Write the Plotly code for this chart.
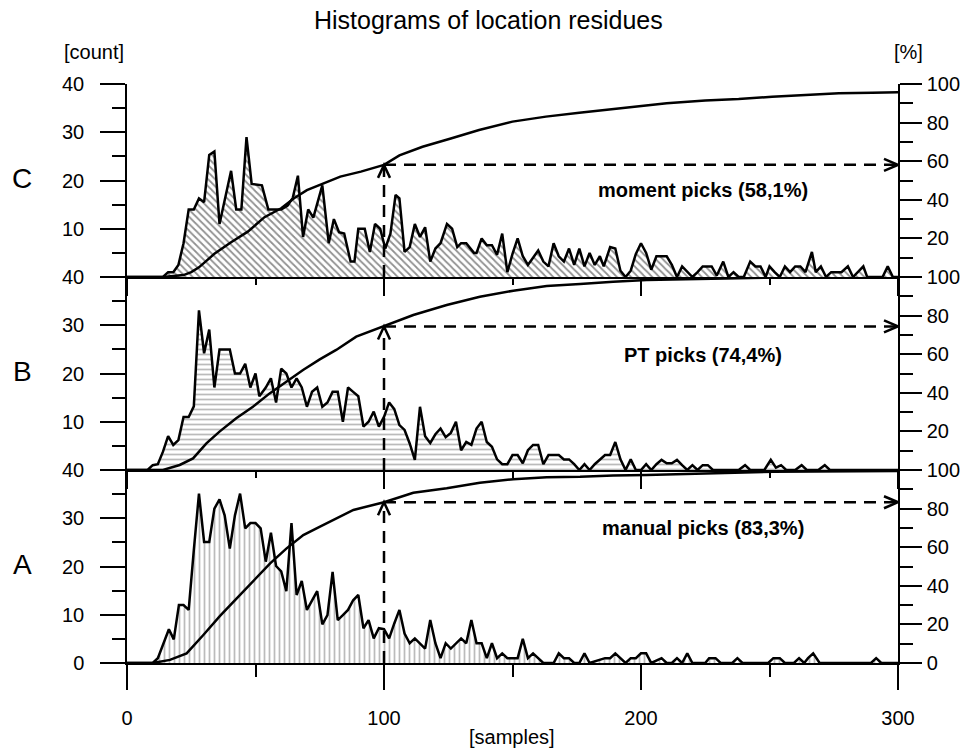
import plotly.graph_objects as go

# ---------------- data ----------------
X_TICKS = [0, 100, 200, 300]
X_TICK_LABELS = ["0", "100", "200", "300"]
X_MINOR = [50, 150, 250]
COUNT_TICKS_FULL = [0, 10, 20, 30, 40]
COUNT_TICKS_UPPER = [10, 20, 30, 40]
COUNT_MINOR = [5, 15, 25, 35]
PCT_TICKS_FULL = [0, 20, 40, 60, 80, 100]
PCT_TICKS_UPPER = [20, 40, 60, 80, 100]
PCT_MINOR = [10, 30, 50, 70, 90]

TITLE = "Histograms of location residues"
PANEL_NAMES = ["A", "B", "C"]
PICK_LABELS = ["manual picks (83,3%)", "PT picks (74,4%)", "moment picks (58,1%)"]
PICK_PCT = [83.3, 74.4, 58.1]
MARK_X = 100

# Panel C : moment picks
c_x = [0, 14, 16, 18, 20, 22, 24, 26, 28, 30, 32, 34, 36, 40.5, 42.5, 44.5, 46.5, 48.5, 52.5, 55,
       60, 62.5, 64.5, 66.5, 68.5, 70.5, 72.5, 76, 78.5, 80.5, 82.5, 84.5, 87, 88.5, 90, 92.5, 94.5,
       96.5, 98.5, 100.5, 102.5, 104.5, 106, 108, 110, 112, 114, 116, 118, 120, 122, 124.5, 126.5,
       128.5, 130, 132, 135, 136, 138, 140, 142, 144, 146, 148, 150, 152, 154, 156, 158, 160, 162,
       164, 166, 168, 170, 172, 174, 176, 178, 180, 182, 184, 185.5, 188, 190, 192, 194, 196, 198,
       200, 202, 204, 206, 210, 212, 214, 216, 218, 220, 222, 224, 227.5, 229.5, 232, 234, 236, 238,
       240, 242.5, 244.5, 246.5, 248.5, 250, 252, 254, 256, 258, 260, 262, 264, 266.5, 268, 270,
       272, 274, 278, 280.5, 282.5, 286.5, 288, 294, 296, 298, 300]
c_count = [0, 0, 1, 1, 2.5, 7, 14, 14, 16.3, 15.5, 25.3, 26, 11, 22, 14, 14, 29, 19.3, 19, 14,
           14, 14.8, 16.4, 21, 8.3, 14, 12.3, 19, 7, 12, 9.3, 9, 3.2, 3.2, 10, 10, 5.2,
           11, 10, 5.9, 9, 17, 16.3, 5.2, 6.2, 11, 8.3, 10.3, 3.2, 5.9, 7, 11, 10,
           6.2, 7, 7, 5, 5, 8, 6.6, 6.6, 4.6, 9, 1, 4.8, 8, 4.3, 2.5, 4, 5.5, 3.2,
           2.2, 7, 4.3, 3.2, 5.9, 2.5, 5.9, 2.2, 5, 2.5, 4.3, 2.2, 6.2, 5.9, 1.3, 0, 1.3, 4.8,
           7, 5, 1.5, 4.3, 4.3, 2.5, 0, 2.2, 1, 0, 1, 2.2, 2.2, 0.3, 3.2, 0, 1, 0,
           0, 3.2, 2.2, 2.2, 0, 2.2, 1, 0, 2.2, 1, 2.2, 2.2, 1, 5.2, 1, 2.2,
           0, 1, 1, 2.2, 0, 2.2, 0, 0, 2.2, 0, 0]
c_cum_x = [0, 14, 22, 25, 28, 34, 40.5, 47, 53.5, 60, 65, 70, 76.5, 83, 91, 100, 106, 115, 126,
           137, 150, 163, 176, 189, 202, 210, 225, 238, 251, 264, 277, 290, 300]
c_cum_pct = [0, 0, 1, 2.5, 5, 12, 18, 23.5, 31, 35.6, 40.8, 45, 48.5, 52, 54.6, 58.1, 63, 67.5, 71.8,
             76.2, 80.5, 83.1, 85.1, 86.9, 88.5, 90, 91.4, 92.2, 93.4, 94.3, 95.2, 95.5, 95.7]

# Panel B : PT picks
b_x = [0, 8, 10, 12, 14, 16, 18, 20, 22, 24, 26, 28, 30, 32, 34, 36, 40, 42, 44, 46, 48, 50, 51.5,
       54, 56, 58, 60, 62, 64, 66, 68, 70, 72, 74, 76, 78, 80, 82, 84, 86, 88, 90, 92, 94, 96, 98,
       100, 102, 104, 106, 108, 110, 112, 114, 116, 118, 120, 122, 124, 126, 128, 130, 132, 134,
       136, 138, 140, 142, 144, 146, 148, 150, 152, 154, 156, 158, 160, 162, 164, 166, 168, 170,
       172, 174, 176, 178, 180, 182, 184, 186, 188, 190, 192, 194, 196, 198, 200, 202, 204, 206,
       208, 210, 212, 214, 216, 218, 220, 222, 224, 226, 228, 238, 240.5, 242.5, 248, 250.5, 252.5,
       254.5, 256.5, 260, 262.5, 264.5, 269, 271.5, 273.5, 300]
b_count = [0, 0, 1, 1.2, 3.8, 7, 5.2, 6.2, 11, 11, 13.2, 33.1, 24.2, 29.1, 17.1, 25, 25, 20, 20, 22,
           17.1, 20, 15.3, 17.1, 19, 14, 21, 20, 17.1, 19, 17.1, 13.1, 16.2, 17.1, 13.1, 14, 16.2,
           16.2, 10, 17.1, 16.2, 15.3, 9, 10, 12.1, 9, 11, 14, 12.6, 9.3, 8.3, 5.5, 2.1, 13.1, 7,
           5.6, 7.4, 8.6, 6.8, 7.7, 10, 4.1, 5.8, 5.2, 8.6, 10, 5.8, 4.8, 2.2, 1.2, 1.2, 3.1, 3.1,
           1.4, 4.1, 5.2, 5.2, 1.2, 3.1, 3.1, 3.1, 2.2, 2.2, 1.2, 0, 1.2, 0, 1.2, 2.2, 3.1, 3.1,
           5.8, 2.2, 0, 2.2, 0, 0, 1.2, 0, 1.2, 2.1, 1.4, 1.4, 2.1, 1, 0, 1, 0, 1, 1, 0, 0, 1, 0, 0,
           2.1, 0.5, 1, 0, 0, 1, 0, 0, 1, 0, 0]
b_cum_x = [0, 14, 20.5, 25.7, 30.9, 36, 42.5, 49, 55.5, 62, 68.5, 75, 81.4, 89.2, 100, 111.4, 124.4,
           137.3, 150.3, 163.3, 176.3, 189.2, 202.2, 225, 250, 300]
b_cum_pct = [0, 0, 2.6, 6, 13.8, 19.9, 26.8, 32.8, 39.7, 45.8, 51.8, 57.3, 62.2, 69.1, 74.4, 80.3,
             85.5, 89.8, 92.9, 95.3, 96.4, 97.6, 98.4, 99.2, 99.7, 100]

# Panel A : manual picks
a_x = [0, 10, 12, 14, 16.3, 18.2, 20.2, 22, 24, 26, 28, 30, 32, 34, 36, 38, 40, 42, 44, 46, 48, 50,
       52, 54, 56, 58, 60, 62, 64, 66, 68, 70, 72, 74, 76, 78, 80, 82, 84, 86, 88, 90, 92, 94, 96,
       98, 100, 102, 104, 106, 108, 110, 112, 114, 116, 118, 120, 122, 124, 126, 128, 130, 132, 134,
       136, 138, 140, 142, 144, 146, 148, 150, 152, 154, 156, 158, 160, 162, 166, 168, 170, 172,
       174, 176, 178, 180, 186, 188, 190, 192, 194, 196, 198, 200, 202, 204, 208, 210, 212, 214,
       216, 218, 220, 225, 226.5, 229, 231, 235.5, 237.5, 239.5, 249.5, 251.5, 254, 256, 259.5,
       261.5, 263.5, 265, 267, 269.5, 289.5, 291.5, 293.5, 300]
a_count = [0, 0, 1, 3.7, 7, 4.9, 12, 12, 11, 23.4, 35.1, 25.1, 25.1, 32, 33.9, 30.6, 23.7, 30.6, 35.1,
           27.9, 29, 29, 27.9, 21, 27, 20.1, 19, 14.9, 29, 14.1, 17, 11, 13, 14.9, 8, 9.9, 18.9, 8.9,
           9.9, 11, 13, 14.1, 7.2, 8.9, 5.1, 7.2, 7, 5.1, 8.2, 11, 6.1, 4.1, 5.1, 4.1, 3, 8.9, 4.1,
           1, 4.1, 3, 4.1, 5.1, 4.1, 8.9, 4.1, 4.1, 1, 4.1, 1, 2, 1, 1, 1, 5, 1, 2, 1, 0, 0, 2, 1, 1,
           0, 0, 2, 0, 1, 1, 2, 1, 0, 1, 1, 2, 2, 0, 1, 0, 0, 1, 0, 2, 0, 0, 1, 1, 0, 0, 1, 0, 0, 1,
           1, 0, 0, 1, 0, 1, 2, 0, 0, 1, 0, 0]
a_cum_x = [0, 10, 16.7, 23.2, 29.7, 36.2, 42.7, 49.2, 55.7, 62.1, 68.6, 75.1, 81.6, 88.1, 100, 111.4,
           124.4, 137.3, 150.3, 163.3, 176.3, 189.2, 202.2, 226, 251.5, 300]
a_cum_pct = [0, 0, 1.6, 5, 14.5, 24.4, 33.5, 42.7, 51.6, 59.4, 66.3, 70.6, 75, 79.3, 83.3, 88.2, 90.5,
             93.4, 95.2, 96.2, 96.5, 97.2, 97.4, 98.3, 99.1, 99.5]

# ---------------- figure ----------------
FONT = "Arial, Liberation Sans, sans-serif"
W, H = 974, 749
PLOT_L, PLOT_R, PLOT_T, PLOT_B = 127, 898, 84, 663   # pixels of the plot area
ML, MT = PLOT_L, PLOT_T
PW, PH = PLOT_R - PLOT_L, PLOT_B - PLOT_T
MR, MB = W - ML - PW, H - MT - PH
PANEL_H = PH / 3.0

fig = go.Figure()

panels = [
    dict(hx=a_x, hy=a_count, cx=a_cum_x, cy=a_cum_pct, xa="x", ya="y", pa="y2",
         pattern=dict(shape="|", size=5, solidity=0.35, fgcolor="#777777", bgcolor="white")),
    dict(hx=b_x, hy=b_count, cx=b_cum_x, cy=b_cum_pct, xa="x2", ya="y3", pa="y4",
         pattern=dict(shape="-", size=5, solidity=0.35, fgcolor="#777777", bgcolor="white")),
    dict(hx=c_x, hy=c_count, cx=c_cum_x, cy=c_cum_pct, xa="x3", ya="y5", pa="y6",
         pattern=dict(shape="\\", size=5, solidity=0.35, fgcolor="#222222", bgcolor="white")),
]

for p in panels:
    fig.add_trace(go.Scatter(x=p["hx"], y=p["hy"], xaxis=p["xa"], yaxis=p["ya"], mode="lines",
                             fill="tozeroy", fillpattern=p["pattern"], fillcolor="white",
                             line=dict(color="black", width=2.5), showlegend=False,
                             hoverinfo="skip"))
    fig.add_trace(go.Scatter(x=p["cx"], y=p["cy"], xaxis=p["xa"], yaxis=p["pa"], mode="lines",
                             line=dict(color="black", width=2.5), showlegend=False,
                             hoverinfo="skip"))

tickfont = dict(family=FONT, size=20, color="black")
common_line = dict(showline=True, linecolor="black", linewidth=1.5, showgrid=False, zeroline=False,
                   tickcolor="black", tickwidth=1.5)

layout = dict(
    width=W, height=H,
    margin=dict(l=ML, r=MR, t=MT, b=MB),
    paper_bgcolor="white", plot_bgcolor="white",
    showlegend=False,
    font=dict(family=FONT, size=20, color="black"),
)

x_ranges = [0, 300]
for i, (xname, yname) in enumerate([("xaxis", "y"), ("xaxis2", "y3"), ("xaxis3", "y5")]):
    ax = dict(domain=[0, 1], anchor=yname, range=x_ranges, tickvals=X_TICKS,
              ticks="outside", **common_line)
    if i == 0:
        ax.update(ticktext=X_TICK_LABELS, ticklen=25, tickfont=tickfont, ticklabelstandoff=11,
                  minor=dict(tickvals=X_MINOR, ticks="outside", ticklen=12, tickcolor="black",
                             tickwidth=1.5))
    else:
        ax.update(showticklabels=False, ticklen=17, matches="x",
                  minor=dict(tickvals=X_MINOR, ticks="outside", ticklen=6, tickcolor="black",
                             tickwidth=1.5))
    layout[xname] = ax

for i in range(3):
    left_name = "yaxis" if i == 0 else "yaxis%d" % (2 * i + 1)
    right_name = "yaxis%d" % (2 * i + 2)
    xref = "x" if i == 0 else "x%d" % (i + 1)
    base = "y" if i == 0 else "y%d" % (2 * i + 1)
    layout[left_name] = dict(
        domain=[i / 3.0, (i + 1) / 3.0], anchor=xref, range=[0, 40],
        tickvals=COUNT_TICKS_FULL if i == 0 else COUNT_TICKS_UPPER,
        ticks="outside", ticklen=25, tickfont=tickfont, ticklabelstandoff=12,
        minor=dict(tickvals=COUNT_MINOR, ticks="outside", ticklen=13, tickcolor="black",
                   tickwidth=1.5),
        **common_line)
    layout[right_name] = dict(
        overlaying=base, anchor=xref, side="right", range=[0, 100],
        tickvals=PCT_TICKS_FULL if i == 0 else PCT_TICKS_UPPER,
        ticks="outside", ticklen=22, tickfont=tickfont, ticklabelstandoff=1,
        minor=dict(tickvals=PCT_MINOR, ticks="outside", ticklen=13, tickcolor="black",
                   tickwidth=1.5),
        **common_line)

fig.update_layout(**layout)


def px_to_paper(px, py):
    """pixel -> paper coordinate"""
    return (px - PLOT_L) / PW, (PLOT_B - py) / PH


annotations = []
tx, ty = px_to_paper(488, 20)
annotations.append(dict(text=TITLE, x=tx, y=ty, xref="paper", yref="paper", showarrow=False,
                        font=dict(family=FONT, size=25, color="black"),
                        xanchor="center", yanchor="middle"))
for txt, (px, py) in [("[count]", (94, 52)), ("[%]", (908, 52)), ("[samples]", (512, 737))]:
    ax_, ay_ = px_to_paper(px, py)
    annotations.append(dict(text=txt, x=ax_, y=ay_, xref="paper", yref="paper", showarrow=False,
                            font=dict(family=FONT, size=20, color="black"),
                            xanchor="center", yanchor="middle"))

panel_label_py = [564, 371, 178]
pick_label_py = [528, 355, 190]
for i in range(3):
    ax_, ay_ = px_to_paper(22, panel_label_py[i])
    annotations.append(dict(text=PANEL_NAMES[i], x=ax_, y=ay_, xref="paper", yref="paper",
                            showarrow=False, font=dict(family=FONT, size=28, color="black"),
                            xanchor="center", yanchor="middle"))
    ax_, ay_ = px_to_paper(703, pick_label_py[i])
    annotations.append(dict(text="<b>%s</b>" % PICK_LABELS[i], x=ax_, y=ay_, xref="paper",
                            yref="paper", showarrow=False,
                            font=dict(family=FONT, size=20, color="black"),
                            xanchor="center", yanchor="middle"))
fig.update_layout(annotations=annotations)

# dashed arrows: vertical at MARK_X up to the cumulative value, then right to the axis
dx = 300.0 / PW          # samples per pixel
dy = 100.0 / PANEL_H     # percent per pixel
shapes = []
for i in range(3):
    xref = "x" if i == 0 else "x%d" % (i + 1)
    yref = "y%d" % (2 * i + 2)
    v = PICK_PCT[i]
    dash = dict(color="black", width=2.5, dash="12px,8px")
    shapes.append(dict(type="line", xref=xref, yref=yref, x0=MARK_X, y0=0, x1=MARK_X, y1=v,
                       line=dash))
    shapes.append(dict(type="line", xref=xref, yref=yref, x0=MARK_X, y0=v, x1=x_ranges[1], y1=v,
                       line=dash))
    up = "M %f,%f L %f,%f L %f,%f" % (MARK_X - 6 * dx, v - 13 * dy, MARK_X, v,
                                       MARK_X + 6 * dx, v - 13 * dy)
    right = "M %f,%f L %f,%f L %f,%f" % (x_ranges[1] - 14 * dx, v + 6 * dy, x_ranges[1], v,
                                          x_ranges[1] - 14 * dx, v - 6 * dy)
    for pth in (up, right):
        shapes.append(dict(type="path", xref=xref, yref=yref, path=pth,
                           line=dict(color="black", width=2.5)))
fig.update_layout(shapes=shapes)

# remove the default 8px page margin so the figure fills the window exactly
fig.write_html("out.html", config={"displayModeBar": False},
               post_script="document.body.style.margin='0px';document.body.style.overflow='hidden';")
